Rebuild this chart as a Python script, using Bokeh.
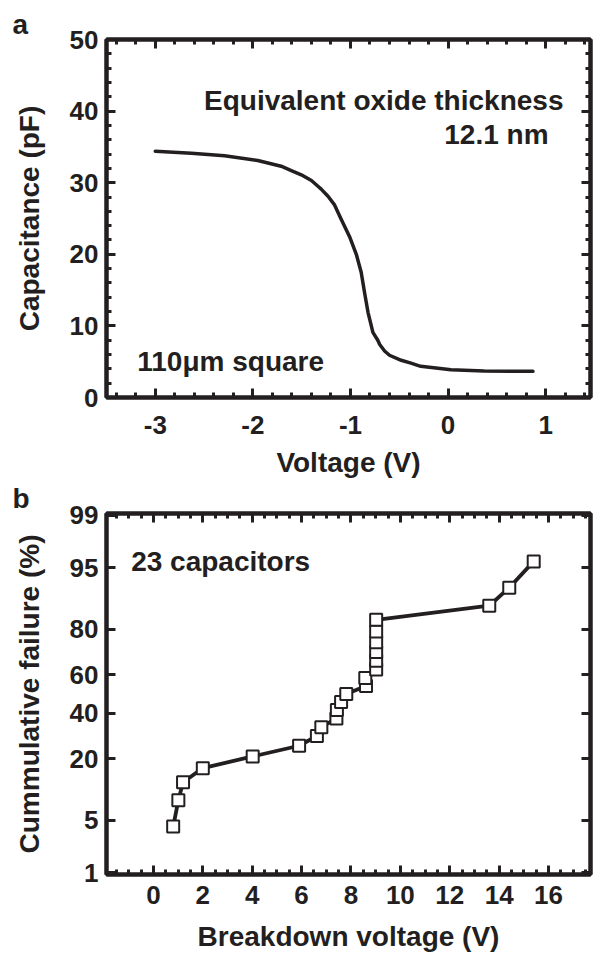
from statistics import NormalDist
from bokeh.plotting import figure
from bokeh.layouts import column
from bokeh.models import (LinearAxis, FixedTicker, Label, Range1d, SingleIntervalTicker,
                          PrintfTickFormatter)
from bokeh.embed import file_html
from bokeh.resources import INLINE

# ---------------- data ----------------
# panel a: C-V curve
cv_voltage = [-3.0, -2.63, -2.29, -1.95, -1.71, -1.606, -1.504, -1.40, -1.333, -1.30,
              -1.23, -1.163, -1.095, -1.01, -0.94, -0.89, -0.856, -0.82, -0.77, -0.72,
              -0.70, -0.65, -0.60, -0.48, -0.38, -0.28, 0.03, 0.37, 0.87]
cv_capacitance = [34.4, 34.1, 33.75, 33.1, 32.3, 31.7, 31.1, 30.3, 29.5, 29.1,
                  28.1, 26.9, 24.9, 22.5, 20.0, 17.5, 14.7, 11.9, 9.1, 8.0,
                  7.4, 6.5, 5.9, 5.2, 4.8, 4.35, 3.89, 3.7, 3.65]

# panel b: breakdown distribution
bd_voltage = [0.80, 1.01, 1.20, 2.0, 4.02, 5.9, 6.62, 6.8, 7.41, 7.43, 7.6, 7.81,
              8.61, 8.58, 9.02, 9.02, 9.02, 9.02, 9.02, 9.02, 13.6, 14.41, 15.4]
bd_failure_pct = [4.2, 8.3, 12.5, 16.7, 20.8, 25.0, 29.2, 33.3, 37.5, 41.7, 45.8, 50.0,
                  54.2, 58.3, 62.5, 66.7, 70.8, 75.0, 79.2, 83.3, 87.5, 91.7, 95.8]
bd_y_tick_labels = [1, 5, 20, 40, 60, 80, 95, 99]

INK = "#231f20"
FONT = "Liberation Sans"

nd = NormalDist()
def probit(pct):
    return round(nd.inv_cdf(pct / 100.0), 6)

bd_z = [probit(v) for v in bd_failure_pct]
bd_tick_z = [probit(v) for v in bd_y_tick_labels]


def style_axis(ax, minor=True, labels=True, lab_standoff=8, axis_standoff=20):
    ax.axis_line_width = 4
    ax.axis_line_color = INK
    ax.major_tick_in = 9
    ax.major_tick_out = 0
    ax.major_tick_line_width = 3
    ax.major_tick_line_color = INK
    if minor:
        ax.minor_tick_in = 5
        ax.minor_tick_out = 0
        ax.minor_tick_line_width = 3
        ax.minor_tick_line_color = INK
    else:
        ax.minor_tick_line_color = None
    if labels:
        ax.major_label_text_font = FONT
        ax.major_label_text_font_style = "bold"
        ax.major_label_text_font_size = "26px"
        ax.major_label_text_color = INK
        ax.major_label_standoff = lab_standoff
        ax.axis_label_text_font = FONT
        ax.axis_label_text_font_style = "bold"
        ax.axis_label_text_font_size = "28px"
        ax.axis_label_text_color = INK
        ax.axis_label_standoff = axis_standoff
    else:
        ax.major_label_text_font_size = "1px"
        ax.major_label_text_color = None
        ax.major_label_standoff = 0


def base_fig(height, xr, yr, top, bottom, panel_letter, letter_offset):
    p = figure(width=594, height=height, x_range=xr, y_range=yr,
               output_backend="svg", toolbar_location=None,
               min_border_left=106, min_border_right=4,
               min_border_top=top, min_border_bottom=bottom)
    p.xgrid.visible = False
    p.ygrid.visible = False
    p.outline_line_color = INK
    p.outline_line_width = 4
    p.background_fill_color = "white"
    p.border_fill_color = "white"
    p.title.text = panel_letter
    p.title.align = "left"
    p.title.offset = letter_offset
    p.title.standoff = 0
    p.title.text_font = FONT
    p.title.text_font_style = "bold"
    p.title.text_font_size = "28px"
    p.title.text_color = INK
    return p


def add_label(p, x, y, text, align="left"):
    p.add_layout(Label(x=x, y=y, text=text, text_font=FONT, text_font_size="28px",
                       text_font_style="bold", text_color=INK, text_align=align,
                       text_baseline="alphabetic"))


# ---------------- panel a ----------------
p1 = base_fig(480, Range1d(-3.5, 1.46), Range1d(0, 50), 39, 81, "a", -94)
p1.xaxis.ticker = SingleIntervalTicker(interval=1, num_minor_ticks=5)
p1.yaxis.ticker = SingleIntervalTicker(interval=10, num_minor_ticks=5)
p1.xaxis.formatter = PrintfTickFormatter(format="%d")
p1.yaxis.formatter = PrintfTickFormatter(format="%d")
p1.xaxis.axis_label = "Voltage (V)"
p1.yaxis.axis_label = "Capacitance (pF)"
style_axis(p1.xaxis[0], lab_standoff=18, axis_standoff=10)
style_axis(p1.yaxis[0], lab_standoff=8, axis_standoff=22)
top1 = LinearAxis(ticker=SingleIntervalTicker(interval=1, num_minor_ticks=5))
right1 = LinearAxis(ticker=SingleIntervalTicker(interval=10, num_minor_ticks=5))
style_axis(top1, labels=False)
style_axis(right1, labels=False)
p1.add_layout(top1, "above")
p1.add_layout(right1, "right")

p1.line(cv_voltage, cv_capacitance, line_width=3.5, line_color=INK,
        line_cap="round", line_join="round")

add_label(p1, 1.183, 41.5, "Equivalent oxide thickness", "right")
add_label(p1, 1.03, 36.7, "12.1 nm", "right")
add_label(p1, -3.185, 4.96, "110\u03bcm square", "left")

# ---------------- panel b ----------------
p2 = base_fig(474, Range1d(-1.9, 17.7), Range1d(-2.352, 2.352), 33, 77, "b", -94)
p2.xaxis.ticker = SingleIntervalTicker(interval=2, num_minor_ticks=4)
p2.xaxis.formatter = PrintfTickFormatter(format="%d")
p2.yaxis.ticker = FixedTicker(ticks=bd_tick_z)
p2.yaxis.major_label_overrides = {z: str(v) for z, v in zip(bd_tick_z, bd_y_tick_labels)}
p2.xaxis.axis_label = "Breakdown voltage (V)"
p2.yaxis.axis_label = "Cummulative failure (%)"
style_axis(p2.xaxis[0], lab_standoff=11, axis_standoff=14)
style_axis(p2.yaxis[0], minor=False, lab_standoff=8, axis_standoff=22)
top2 = LinearAxis(ticker=SingleIntervalTicker(interval=2, num_minor_ticks=4))
right2 = LinearAxis(ticker=FixedTicker(ticks=bd_tick_z))
style_axis(top2, labels=False)
style_axis(right2, minor=False, labels=False)
p2.add_layout(top2, "above")
p2.add_layout(right2, "right")

p2.line(bd_voltage, bd_z, line_width=3.8, line_color=INK, line_join="round")
p2.scatter(bd_voltage, bd_z, marker="square", size=12, fill_color="white",
           line_color=INK, line_width=2)

add_label(p2, -0.9, 1.723, "23 capacitors", "left")

layout = column(p1, p2)
open("out.html", "w").write(file_html(layout, INLINE))
